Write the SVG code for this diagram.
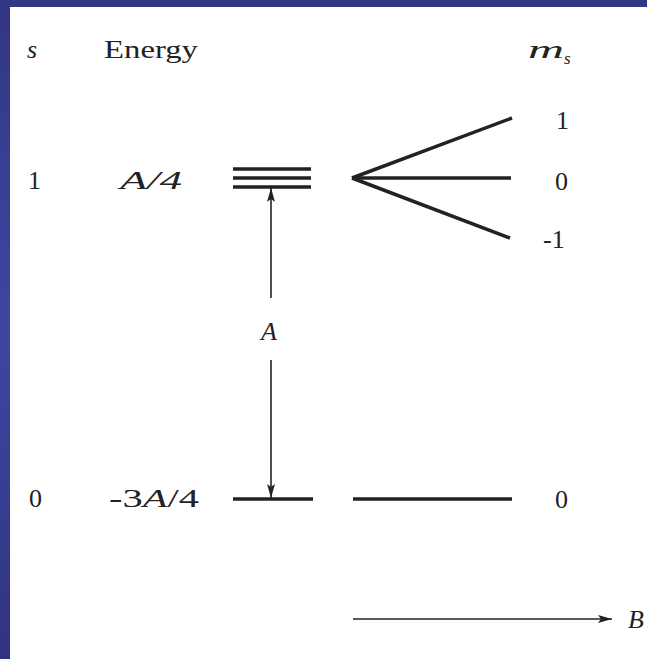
<svg xmlns="http://www.w3.org/2000/svg" width="647" height="659" viewBox="0 0 647 659" font-family="'Liberation Serif', 'Times New Roman', 'DejaVu Serif', serif">
<defs>
<linearGradient id="bg" x1="0" y1="0" x2="0" y2="1">
<stop offset="0" stop-color="#323683"/>
<stop offset="0.5" stop-color="#3f46a2"/>
<stop offset="1" stop-color="#30347f"/>
</linearGradient>
<marker id="ah" viewBox="0 0 14 8" refX="14" refY="4" markerWidth="14" markerHeight="8" markerUnits="userSpaceOnUse" orient="auto">
<path d="M0,0 L14,4 L0,8 L3,4 Z" fill="#222"/>
</marker>
<style>
text{fill:#222;font-size:26px}
.it{font-style:italic}
.lvl{stroke:#222;stroke-width:3.5;fill:none}
.thin{stroke:#222;stroke-width:1.6;fill:none}
</style>
</defs>
<rect x="0" y="0" width="647" height="659" fill="url(#bg)"/>
<rect x="10" y="7" width="637" height="652" fill="#ffffff"/>

<g id="headers">
<text class="it" x="27" y="58">s</text>
<text x="104" y="58" textLength="94" lengthAdjust="spacingAndGlyphs">Energy</text>
<text class="it" x="528" y="58"><tspan textLength="36" lengthAdjust="spacingAndGlyphs">m</tspan><tspan font-size="17" dy="6">s</tspan></text>
</g>

<g id="row-s1">
<text x="28" y="189">1</text>
<text class="it" x="120" y="189" textLength="62" lengthAdjust="spacingAndGlyphs">A/4</text>
</g>
<g id="row-s0">
<text x="29" y="507">0</text>
<text x="109" y="507" textLength="90" lengthAdjust="spacingAndGlyphs">-3<tspan class="it">A</tspan>/4</text>
</g>

<g id="level-triplet">
<line class="lvl" x1="233" y1="169" x2="311" y2="169"/>
<line class="lvl" x1="233" y1="178" x2="311" y2="178"/>
<line class="lvl" x1="233" y1="187" x2="311" y2="187"/>
</g>
<g id="level-singlet">
<line class="lvl" x1="233" y1="499" x2="313" y2="499"/>
</g>

<g id="fan">
<line class="lvl" x1="352" y1="178" x2="512" y2="118"/>
<line class="lvl" x1="352" y1="178" x2="511" y2="178"/>
<line class="lvl" x1="352" y1="178" x2="510" y2="238"/>
</g>
<g id="singlet-right">
<line class="lvl" x1="353" y1="499" x2="512" y2="499"/>
</g>

<g id="ms-labels">
<text x="556" y="129">1</text>
<text x="555" y="190">0</text>
<text x="543" y="248">-1</text>
<text x="555" y="508">0</text>
</g>

<g id="connectors">
<line class="thin" x1="271" y1="298" x2="271" y2="188" marker-end="url(#ah)"/>
<line class="thin" x1="271" y1="360" x2="271" y2="498" marker-end="url(#ah)"/>
<line class="thin" x1="353" y1="619" x2="612" y2="619" marker-end="url(#ah)"/>
</g>

<g id="gap-label">
<text class="it" x="261" y="340">A</text>
</g>
<g id="field">
<text class="it" x="628" y="628">B</text>
</g>
</svg>
